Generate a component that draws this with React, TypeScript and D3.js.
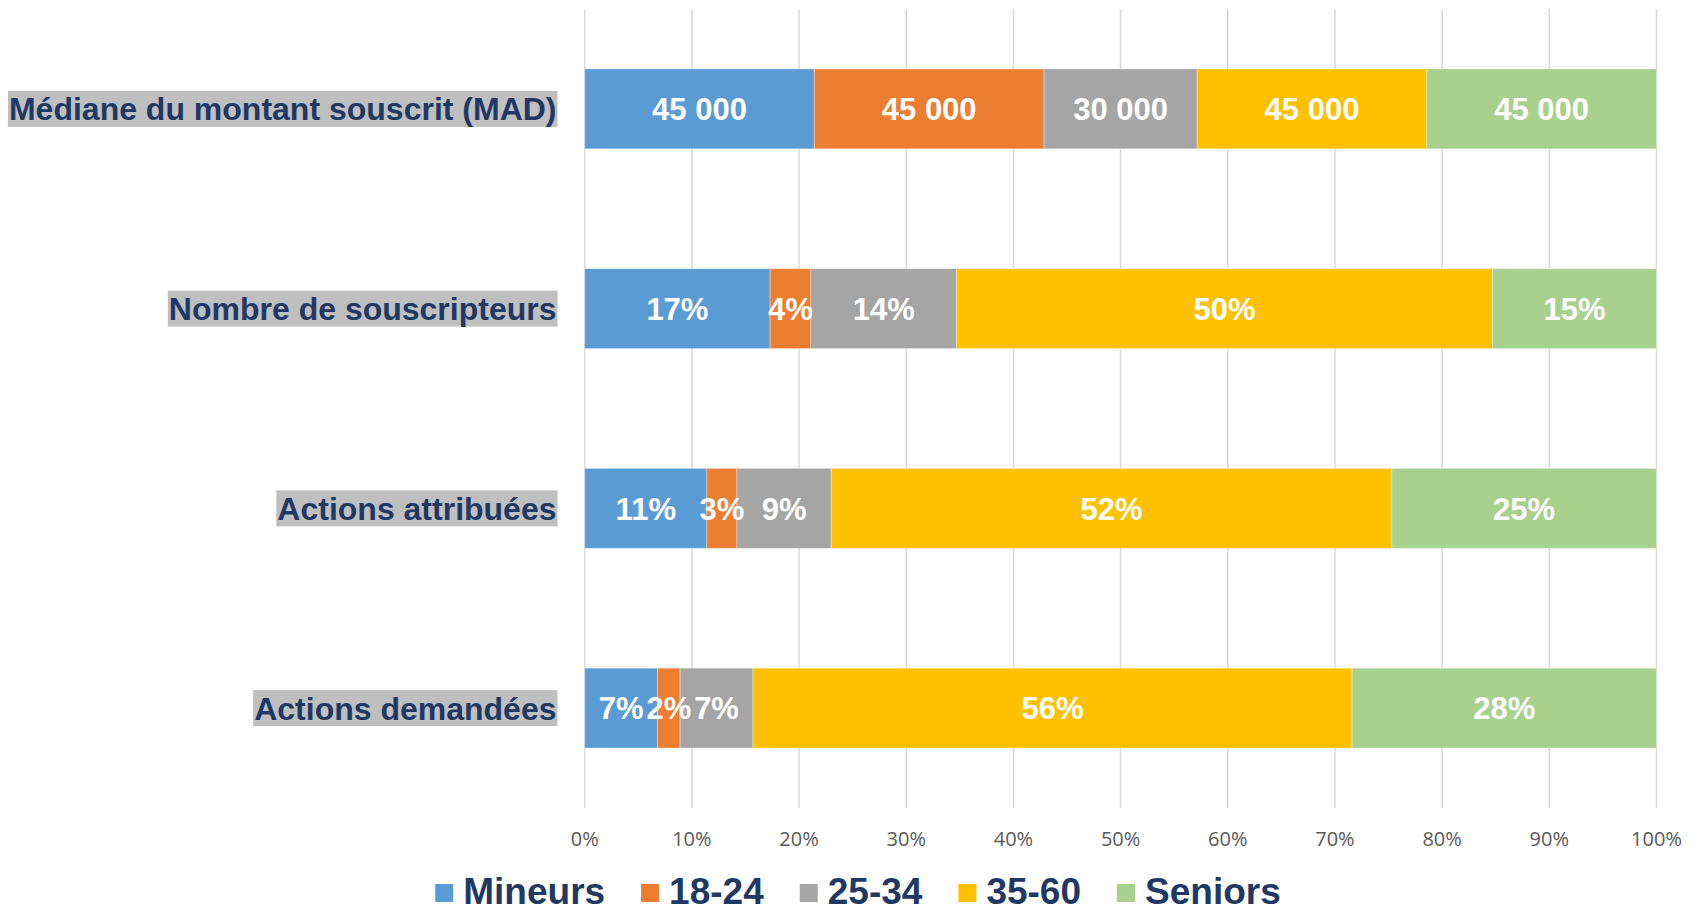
import { useEffect, useRef } from 'react';
import * as d3 from 'd3';

// Categories, top to bottom
const categories = [
  'Médiane du montant souscrit (MAD)',
  'Nombre de souscripteurs',
  'Actions attribuées',
  'Actions demandées',
];

const seriesNames = ['Mineurs', '18-24', '25-34', '35-60', 'Seniors'];
const seriesColors = ['#5B9BD5', '#ED7D31', '#A5A5A5', '#FFC000', '#A9D18E'];

// values per series, in category order
const mineurs = [45000, 17.3, 11.4, 6.8];
const age1824 = [45000, 3.8, 2.8, 2.1];
const age2534 = [30000, 13.6, 8.8, 6.8];
const age3560 = [45000, 50.0, 52.3, 55.9];
const seniors = [45000, 15.3, 24.7, 28.4];

const xTicks = [0, 0.1, 0.2, 0.3, 0.4, 0.5, 0.6, 0.7, 0.8, 0.9, 1];

const W = 1701;
const H = 914;
const FONT = '"Liberation Sans", Arial, sans-serif';
const NAVY = '#1F3864';

const App = () => {
  const ref = useRef<SVGSVGElement>(null);

  useEffect(() => {
    if (!ref.current) return;
    const svg = d3.select(ref.current);
    svg.selectAll('*').remove();

    const series = [mineurs, age1824, age2534, age3560, seniors];

    // Build normalized stacks per category
    const rows = categories.map((cat, i) => {
      const vals = series.map(s => s[i]);
      const total = d3.sum(vals);
      let acc = 0;
      const segs = vals.map((v, j) => {
        const x0 = acc / total;
        acc += v;
        return { x0, x1: acc / total, value: v, j };
      });
      return { cat, segs, isAmount: i === 0 };
    });

    const left = 584.7;
    const right = 1656.5;
    const top = 9;
    const bottom = 808;

    const x = d3.scaleLinear().domain([0, 1]).range([left, right]);
    const y = d3.scaleBand<string>()
      .domain(categories)
      .range([top, bottom])
      .paddingInner(0.6)
      .paddingOuter(0.3);

    // gridlines
    svg.append('g')
      .selectAll('line')
      .data(xTicks)
      .join('line')
      .attr('x1', d => x(d))
      .attr('x2', d => x(d))
      .attr('y1', top)
      .attr('y2', bottom)
      .attr('stroke', '#D9D9D9')
      .attr('stroke-width', 1.5);

    // tick labels
    svg.append('g')
      .selectAll('text')
      .data(xTicks)
      .join('text')
      .attr('x', d => x(d))
      .attr('y', 839)
      .attr('dy', '0.35em')
      .attr('text-anchor', 'middle')
      .style('font-family', '"Open Sans", sans-serif')
      .style('font-size', '20px')
      .style('fill', '#595959')
      .text(d => d3.format('.0%')(d));

    const fmtAmount = (v: number) => d3.format(',')(v).replace(/,/g, ' ');

    rows.forEach(row => {
      const g = svg.append('g');
      const y0 = y(row.cat)!;
      const bh = y.bandwidth();

      g.selectAll('rect')
        .data(row.segs)
        .join('rect')
        .attr('x', d => x(d.x0))
        .attr('width', d => x(d.x1) - x(d.x0))
        .attr('y', y0)
        .attr('height', bh)
        .attr('fill', d => seriesColors[d.j])
        .attr('stroke', '#ffffff')
        .attr('stroke-opacity', 0.35)
        .attr('stroke-width', 1);

      g.selectAll('text')
        .data(row.segs)
        .join('text')
        .attr('x', d => (x(d.x0) + x(d.x1)) / 2)
        .attr('y', y0 + bh / 2)
        .attr('dy', '0.36em')
        .attr('text-anchor', 'middle')
        .style('font-family', FONT)
        .style('font-weight', 'bold')
        .style('font-size', '31px')
        .style('fill', '#ffffff')
        .text(d => row.isAmount ? fmtAmount(d.value) : `${Math.round(d.value)}%`);

      // category label with grey highlight
      const lg = svg.append('g');
      const label = lg.append('text')
        .attr('x', 556.5)
        .attr('y', y0 + bh / 2)
        .attr('dy', '0.36em')
        .attr('text-anchor', 'end')
        .style('font-family', FONT)
        .style('font-weight', 'bold')
        .style('font-size', '32px')
        .style('fill', NAVY)
        .text(row.cat);
      const bb = (label.node() as SVGTextElement).getBBox();
      lg.insert('rect', 'text')
        .attr('x', bb.x - 1)
        .attr('y', y0 + bh / 2 - 18)
        .attr('width', bb.width + 2)
        .attr('height', 36)
        .attr('fill', '#BFBFBF');
    });

    // legend
    const gap = 36;
    const legend = svg.append('g');
    let cx = 0;
    seriesNames.forEach((name, i) => {
      const item = legend.append('g').attr('transform', `translate(${cx},0)`);
      item.append('rect')
        .attr('x', 0)
        .attr('y', -7)
        .attr('width', 18)
        .attr('height', 18)
        .attr('fill', seriesColors[i]);
      const t = item.append('text')
        .attr('x', 28)
        .attr('y', 0)
        .attr('dy', '0.36em')
        .style('font-family', FONT)
        .style('font-weight', 'bold')
        .style('font-size', '37px')
        .style('fill', NAVY)
        .text(name);
      const tw = (t.node() as SVGTextElement).getComputedTextLength();
      cx += 28 + tw + gap;
    });
    const legendW = cx - gap;
    legend.attr('transform', `translate(${858 - legendW / 2},891)`);
  }, []);

  return (
    <svg
      ref={ref}
      width={W}
      height={H}
      style={{ position: 'absolute', left: 0, top: 0, background: '#ffffff' }}
    />
  );
};

export default App;
